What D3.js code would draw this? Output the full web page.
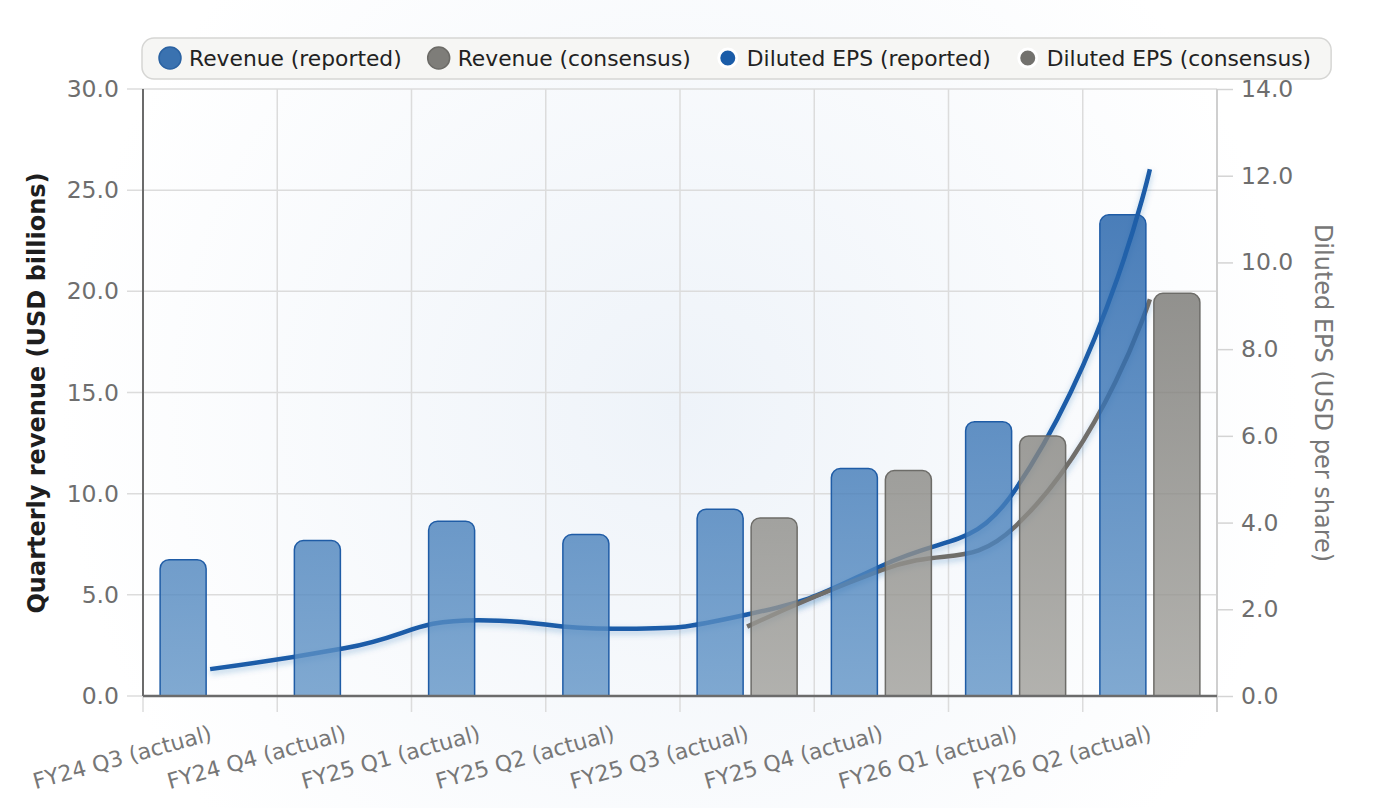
<!doctype html>
<html>
<head>
<meta charset="utf-8">
<script src="https://d3js.org/d3.v7.min.js"></script>
<style>
  body { margin: 0; background: #fff; }
  text { font-family: "DejaVu Sans", sans-serif; }
</style>
</head>
<body>
<script>
    var width = 1380;
    var height = 808;
    var plotLeft = 143, plotRight = 1217, plotTop = 89, plotBottom = 696;

    var quarters = ["FY24 Q3 (actual)", "FY24 Q4 (actual)", "FY25 Q1 (actual)", "FY25 Q2 (actual)",
                    "FY25 Q3 (actual)", "FY25 Q4 (actual)", "FY26 Q1 (actual)", "FY26 Q2 (actual)"];
    var revenueReported = [6.74, 7.68, 8.64, 7.98, 9.23, 11.24, 13.56, 23.78];
    var revenueConsensus = [null, null, null, null, 8.80, 11.14, 12.85, 19.90];
    var epsReported = [0.62, 1.10, 1.75, 1.55, 1.88, 3.00, 4.77, 12.15];
    var epsConsensus = [null, null, null, null, 1.60, 2.90, 3.92, 9.15];
    var revenueTicks = [0, 5, 10, 15, 20, 25, 30];
    var epsTicks = [0, 2, 4, 6, 8, 10, 12, 14];
    var seriesNames = ["Revenue (reported)", "Revenue (consensus)", "Diluted EPS (reported)", "Diluted EPS (consensus)"];

    var x = d3.scaleBand().domain(quarters).range([plotLeft, plotRight]);
    var xInner = d3.scaleBand().domain(["reported", "consensus"])
                   .range([0, x.bandwidth()]).paddingInner(0.148).paddingOuter(0.317);
    var yLeft = d3.scaleLinear().domain([0, 30]).range([plotBottom, plotTop]);
    var yRight = d3.scaleLinear().domain([0, 14]).range([plotBottom, plotTop]);

    var svg = d3.select("body").append("svg")
                .attr("width", width).attr("height", height);
    var defs = svg.append("defs");

    // soft background glow
    var bg = defs.append("radialGradient").attr("id", "bg")
                 .attr("gradientUnits", "userSpaceOnUse")
                 .attr("cx", 680).attr("cy", 410).attr("r", 620);
    bg.append("stop").attr("offset", 0).attr("stop-color", "#eef3f9");
    bg.append("stop").attr("offset", 1).attr("stop-color", "#ffffff");
    svg.append("rect").attr("width", width).attr("height", height).attr("fill", "url(#bg)");

    function barGradient(id, c0, c1) {
        var g = defs.append("linearGradient").attr("id", id)
                    .attr("gradientUnits", "userSpaceOnUse")
                    .attr("x1", 0).attr("y1", plotTop).attr("x2", 0).attr("y2", plotBottom);
        g.append("stop").attr("offset", 0).attr("stop-color", c0);
        g.append("stop").attr("offset", 1).attr("stop-color", c1);
    }
    barGradient("blueBar", "#0c50a0", "#6194c6");
    barGradient("grayBar", "#62615d", "#a09f9a");

    var shadow = defs.append("filter").attr("id", "shadow")
                     .attr("x", "-10%").attr("y", "-10%").attr("width", "120%").attr("height", "130%");
    shadow.append("feDropShadow").attr("dx", 0).attr("dy", 3).attr("stdDeviation", 3)
          .attr("flood-color", "#1a5ca8").attr("flood-opacity", 0.3);

    // smoothing like the original chart: bezier control points scaled by
    // neighbouring segment lengths and clamped to the neighbours' box
    function SmoothCurve(context) { this._context = context; }
    SmoothCurve.prototype = {
        areaStart: function() {},
        areaEnd: function() {},
        lineStart: function() { this._pts = []; },
        point: function(px, py) { this._pts.push([+px, +py]); },
        lineEnd: function() {
            var p = this._pts, n = p.length, c = this._context, s = 0.5;
            if (!n) return;
            c.moveTo(p[0][0], p[0][1]);
            var cpx0 = p[0][0], cpy0 = p[0][1];
            for (var i = 1; i < n; i++) {
                var px = p[i - 1][0], py = p[i - 1][1];
                var cx = p[i][0], cy = p[i][1];
                var cpx1, cpy1, ncx = cx, ncy = cy;
                if (i === n - 1) {
                    cpx1 = cx; cpy1 = cy;
                } else {
                    var nx = p[i + 1][0], ny = p[i + 1][1];
                    var vx = nx - px, vy = ny - py;
                    var lp = Math.hypot(cx - px, cy - py);
                    var ln = Math.hypot(nx - cx, ny - cy);
                    var r = ln / (ln + lp);
                    ncx = cx + vx * s * r;
                    ncy = cy + vy * s * r;
                    ncx = Math.max(Math.min(ncx, Math.max(nx, cx)), Math.min(nx, cx));
                    ncy = Math.max(Math.min(ncy, Math.max(ny, cy)), Math.min(ny, cy));
                    vx = ncx - cx; vy = ncy - cy;
                    cpx1 = cx - vx * lp / ln;
                    cpy1 = cy - vy * lp / ln;
                    cpx1 = Math.max(Math.min(cpx1, Math.max(px, cx)), Math.min(px, cx));
                    cpy1 = Math.max(Math.min(cpy1, Math.max(py, cy)), Math.min(py, cy));
                    vx = cx - cpx1; vy = cy - cpy1;
                    ncx = cx + vx * ln / lp;
                    ncy = cy + vy * ln / lp;
                }
                c.bezierCurveTo(cpx0, cpy0, cpx1, cpy1, cx, cy);
                cpx0 = ncx; cpy0 = ncy;
            }
        }
    };
    function smoothCurve(context) { return new SmoothCurve(context); }

    // grid
    svg.append("g").selectAll("line").data(revenueTicks).enter().append("line")
       .attr("x1", plotLeft - 16).attr("x2", plotRight)
       .attr("y1", function(d){ return yLeft(d); }).attr("y2", function(d){ return yLeft(d); })
       .attr("stroke", "#dcdcdc").attr("stroke-width", 1.5);
    svg.append("g").selectAll("line").data(quarters.concat([null])).enter().append("line")
       .attr("x1", function(d, i){ return plotLeft + i * x.step(); })
       .attr("x2", function(d, i){ return plotLeft + i * x.step(); })
       .attr("y1", plotTop).attr("y2", plotBottom + 16)
       .attr("stroke", "#dcdcdc").attr("stroke-width", 1.5);

    // left axis labels
    var axL = svg.append("g").attr("transform", "translate(" + plotLeft + ",0)")
                 .call(d3.axisLeft(yLeft).tickValues(revenueTicks).tickFormat(d3.format(".1f"))
                         .tickSize(0).tickPadding(24));
    axL.select(".domain").remove();
    axL.selectAll("text").attr("fill", "#6e6e6e").style("font-size", "23.5px")
       .style("font-family", "DejaVu Sans");

    // right axis
    var axR = svg.append("g").attr("transform", "translate(" + plotRight + ",0)")
                 .call(d3.axisRight(yRight).tickValues(epsTicks).tickFormat(d3.format(".1f"))
                         .tickSize(16).tickPadding(8));
    axR.select(".domain").remove();
    axR.selectAll("line").attr("stroke", "#d4d4d4").attr("stroke-width", 1.5);
    axR.selectAll("text").attr("fill", "#6e6e6e").style("font-size", "23.5px")
       .style("font-family", "DejaVu Sans");
    svg.append("line").attr("x1", plotRight).attr("x2", plotRight)
       .attr("y1", plotTop).attr("y2", plotBottom + 16)
       .attr("stroke", "#cfcfcf").attr("stroke-width", 2);

    // x axis labels
    var axB = svg.append("g").attr("transform", "translate(0," + plotBottom + ")")
                 .call(d3.axisBottom(x).tickSize(0));
    axB.select(".domain").remove();
    axB.selectAll("text")
       .attr("x", 3).attr("y", 44).attr("dy", 0)
       .attr("text-anchor", "end")
       .attr("transform", "rotate(-15.5, 3, 44)")
       .attr("fill", "#777")
       .style("font-size", "22px").style("font-family", "DejaVu Sans");

    // EPS lines (drawn under the bars)
    function epsLine(values) {
        return d3.line()
                 .defined(function(d){ return d != null; })
                 .x(function(d, i){ return x(quarters[i]) + x.bandwidth() / 2; })
                 .y(function(d){ return yRight(d); })
                 .curve(smoothCurve)(values);
    }
    svg.append("path").attr("d", epsLine(epsReported))
       .attr("fill", "none").attr("stroke", "#1a5ca8").attr("stroke-width", 4.5)
       .attr("filter", "url(#shadow)");
    svg.append("path").attr("d", epsLine(epsConsensus))
       .attr("fill", "none").attr("stroke", "#6f6e6b").attr("stroke-width", 4.5)
       .attr("filter", "url(#shadow)");

    // bars
    function topRounded(bx, by, w, h, r) {
        r = Math.min(r, h, w / 2);
        return "M" + bx + "," + (by + h) + "V" + (by + r) +
               "A" + r + "," + r + " 0 0 1 " + (bx + r) + "," + by +
               "H" + (bx + w - r) +
               "A" + r + "," + r + " 0 0 1 " + (bx + w) + "," + (by + r) +
               "V" + (by + h) + "Z";
    }
    function drawBars(values, key, fill, stroke) {
        svg.append("g").selectAll("path")
           .data(values.map(function(v, i){ return {q: quarters[i], v: v}; })
                       .filter(function(d){ return d.v != null; }))
           .enter().append("path")
           .attr("d", function(d){
               return topRounded(x(d.q) + xInner(key), yLeft(d.v), xInner.bandwidth(),
                                 yLeft(0) - yLeft(d.v), 9);
           })
           .attr("fill", fill).attr("fill-opacity", 0.8)
           .attr("stroke", stroke).attr("stroke-width", 1.5);
    }
    drawBars(revenueReported, "reported", "url(#blueBar)", "#1f5ca6");
    drawBars(revenueConsensus, "consensus", "url(#grayBar)", "#6d6c68");

    // axis lines on top
    svg.append("line").attr("x1", plotLeft).attr("x2", plotLeft)
       .attr("y1", plotTop).attr("y2", plotBottom)
       .attr("stroke", "#6b6b6b").attr("stroke-width", 2);
    svg.append("line").attr("x1", plotLeft).attr("x2", plotRight)
       .attr("y1", plotBottom).attr("y2", plotBottom)
       .attr("stroke", "#6b6b6b").attr("stroke-width", 2.5);

    // axis titles
    svg.append("text")
       .attr("transform", "translate(45,393) rotate(-90)")
       .attr("text-anchor", "middle")
       .style("font-size", "24px").style("font-weight", "bold")
       .attr("fill", "#1e1e1e")
       .text("Quarterly revenue (USD billions)");
    svg.append("text")
       .attr("transform", "translate(1315,393) rotate(90)")
       .attr("text-anchor", "middle")
       .style("font-size", "24px")
       .attr("fill", "#777")
       .text("Diluted EPS (USD per share)");

    // legend
    var legendBox = svg.append("rect")
                       .attr("x", 142).attr("y", 38).attr("height", 41).attr("rx", 12)
                       .attr("fill", "#f6f6f4").attr("stroke", "#d6d6d4").attr("stroke-width", 1.5);
    var icons = [
        {r: 11, fill: "#3a72b0", stroke: "#2a62a2", sw: 1.5},
        {r: 11, fill: "#7e7d79", stroke: "#6c6b67", sw: 1.5},
        {r: 9, fill: "#1a5ca8", stroke: "#ffffff", sw: 3},
        {r: 9, fill: "#72716d", stroke: "#ffffff", sw: 3}
    ];
    var cursor = 159;
    seriesNames.forEach(function(name, i) {
        var ic = icons[i];
        svg.append("circle").attr("cx", cursor + 11).attr("cy", 58).attr("r", ic.r)
           .attr("fill", ic.fill).attr("stroke", ic.stroke).attr("stroke-width", ic.sw);
        var t = svg.append("text").attr("x", cursor + 30).attr("y", 58)
                   .attr("dominant-baseline", "central")
                   .style("font-size", "21.8px").attr("fill", "#222")
                   .text(name);
        var end = cursor + 30 + t.node().getComputedTextLength();
        cursor = end + 26;
        if (i === seriesNames.length - 1) legendBox.attr("width", end + 20 - 142);
    });
</script>
</body>
</html>
